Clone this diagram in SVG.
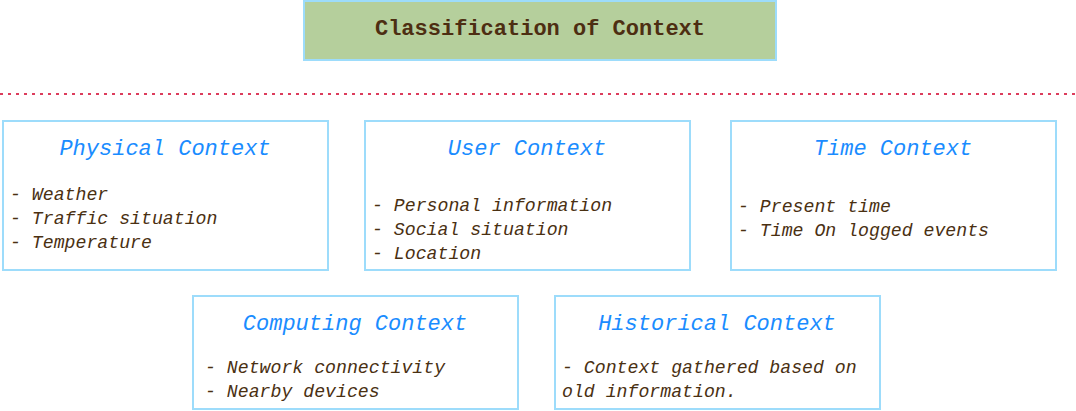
<svg xmlns="http://www.w3.org/2000/svg" width="1076" height="411" viewBox="0 0 1076 411">
<style>
.box{fill:#ffffff;stroke:#9ddcfb;stroke-width:2}
.hdr{fill:#b5cf9c;stroke:#9ddcfb;stroke-width:2}
.ttl{font-family:"Liberation Mono","DejaVu Sans Mono",monospace;font-size:22px;font-style:italic;fill:#1a8cff;text-anchor:middle}
.bd{font-family:"Liberation Mono","DejaVu Sans Mono",monospace;font-size:18.2px;font-style:italic;fill:#4a3012}
.main{font-family:"Liberation Mono","DejaVu Sans Mono",monospace;font-size:22px;font-weight:bold;fill:#4d2e12;text-anchor:middle}
</style>
<rect width="1076" height="411" fill="#ffffff"/>
<g id="header">
<rect class="hdr" x="304" y="1" width="472" height="59"/>
<text class="main" x="540" y="35">Classification of Context</text>
</g>
<g id="connectors">
<line x1="0" y1="94" x2="1076" y2="94" stroke="#dc3c5c" stroke-width="2" stroke-dasharray="3 5"/>
</g>
<g id="physical">
<rect class="box" x="3" y="121" width="325" height="149"/>
<text class="ttl" x="165" y="155">Physical Context</text>
<text class="bd" x="10" y="200">- Weather</text>
<text class="bd" x="10" y="224">- Traffic situation</text>
<text class="bd" x="10" y="248">- Temperature</text>
</g>
<g id="user">
<rect class="box" x="365" y="121" width="325" height="149"/>
<text class="ttl" x="527" y="155">User Context</text>
<text class="bd" x="372" y="211">- Personal information</text>
<text class="bd" x="372" y="235">- Social situation</text>
<text class="bd" x="372" y="259">- Location</text>
</g>
<g id="time">
<rect class="box" x="731" y="121" width="325" height="149"/>
<text class="ttl" x="893" y="155">Time Context</text>
<text class="bd" x="738" y="212">- Present time</text>
<text class="bd" x="738" y="236">- Time On logged events</text>
</g>
<g id="computing">
<rect class="box" x="193" y="296" width="325" height="113"/>
<text class="ttl" x="355" y="330">Computing Context</text>
<text class="bd" x="205" y="373">- Network connectivity</text>
<text class="bd" x="205" y="397">- Nearby devices</text>
</g>
<g id="historical">
<rect class="box" x="555" y="296" width="325" height="113"/>
<text class="ttl" x="717" y="330">Historical Context</text>
<text class="bd" x="562" y="373">- Context gathered based on</text>
<text class="bd" x="562" y="397">old information.</text>
</g>
</svg>
